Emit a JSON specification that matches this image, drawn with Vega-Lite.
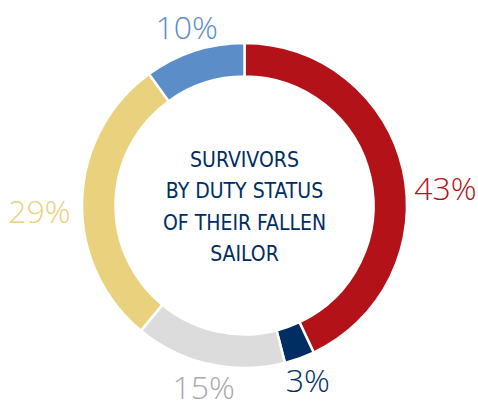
{
  "$schema": "https://vega.github.io/schema/vega-lite/v6.json",
  "width": 467,
  "height": 403,
  "autosize": {"type": "none"},
  "padding": {"left": 11, "right": 0, "top": 4, "bottom": 0},
  "background": "white",
  "view": {"stroke": null},
  "data": {
    "values": [
      {"idx": 1, "category": "A", "value": 43, "label": "43%"},
      {"idx": 2, "category": "B", "value": 3, "label": "3%"},
      {"idx": 3, "category": "C", "value": 15, "label": "15%"},
      {"idx": 4, "category": "D", "value": 29, "label": "29%"},
      {"idx": 5, "category": "E", "value": 10, "label": "10%"}
    ]
  },
  "layer": [
    {
      "mark": {"type": "arc", "outerRadius": 162.5, "innerRadius": 129, "stroke": "white", "strokeWidth": 2.5},
      "encoding": {
        "theta": {"field": "value", "type": "quantitative", "stack": true},
        "order": {"field": "idx", "type": "quantitative"},
        "color": {
          "field": "category", "type": "nominal", "legend": null,
          "scale": {"domain": ["A", "B", "C", "D", "E"], "range": ["#B31218", "#002D62", "#DCDCDC", "#EAD17E", "#5B8DC8"]}
        }
      }
    },
    {
      "mark": {"type": "text", "radius": 187, "dy": 1, "font": "Open Sans", "fontWeight": 300, "fontSize": 32, "align": "center", "baseline": "middle"},
      "encoding": {
        "theta": {"field": "value", "type": "quantitative", "stack": true},
        "order": {"field": "idx", "type": "quantitative"},
        "text": {"condition": {"test": "datum.category === 'B' || datum.category === 'C' || datum.category === 'E'", "field": "label"}, "value": ""},
        "color": {
          "field": "category", "type": "nominal", "legend": null,
          "scale": {"domain": ["A", "B", "C", "D", "E"], "range": ["#B31218", "#002D62", "#A9A9A9", "#EAD17E", "#5B8DC8"]}
        }
      }
    },
    {
      "mark": {"type": "text", "radius": 174, "dy": 22, "font": "Open Sans", "fontWeight": 300, "fontSize": 32, "align": "left", "baseline": "middle"},
      "encoding": {
        "theta": {"field": "value", "type": "quantitative", "stack": true},
        "order": {"field": "idx", "type": "quantitative"},
        "text": {"condition": {"test": "datum.category === 'A'", "field": "label"}, "value": ""},
        "color": {
          "field": "category", "type": "nominal", "legend": null,
          "scale": {"domain": ["A", "B", "C", "D", "E"], "range": ["#B31218", "#002D62", "#A9A9A9", "#EAD17E", "#5B8DC8"]}
        }
      }
    },
    {
      "mark": {"type": "text", "radius": 174, "dy": 13, "font": "Open Sans", "fontWeight": 300, "fontSize": 32, "align": "right", "baseline": "middle"},
      "encoding": {
        "theta": {"field": "value", "type": "quantitative", "stack": true},
        "order": {"field": "idx", "type": "quantitative"},
        "text": {"condition": {"test": "datum.category === 'D'", "field": "label"}, "value": ""},
        "color": {
          "field": "category", "type": "nominal", "legend": null,
          "scale": {"domain": ["A", "B", "C", "D", "E"], "range": ["#B31218", "#002D62", "#A9A9A9", "#EAD17E", "#5B8DC8"]}
        }
      }
    },
    {
      "data": {"values": [{"t": "center"}]},
      "mark": {
        "type": "text",
        "text": ["SURVIVORS", "BY DUTY STATUS", "OF THEIR FALLEN", "SAILOR"],
        "font": "DejaVu Sans Condensed",
        "fontWeight": "normal",
        "fontSize": 21,
        "letterSpacing": 1.6,
        "lineHeight": 31.5,
        "dy": -45,
        "color": "#002D62",
        "align": "center",
        "baseline": "middle"
      },
      "encoding": {}
    }
  ],
  "resolve": {"scale": {"color": "independent"}}
}
